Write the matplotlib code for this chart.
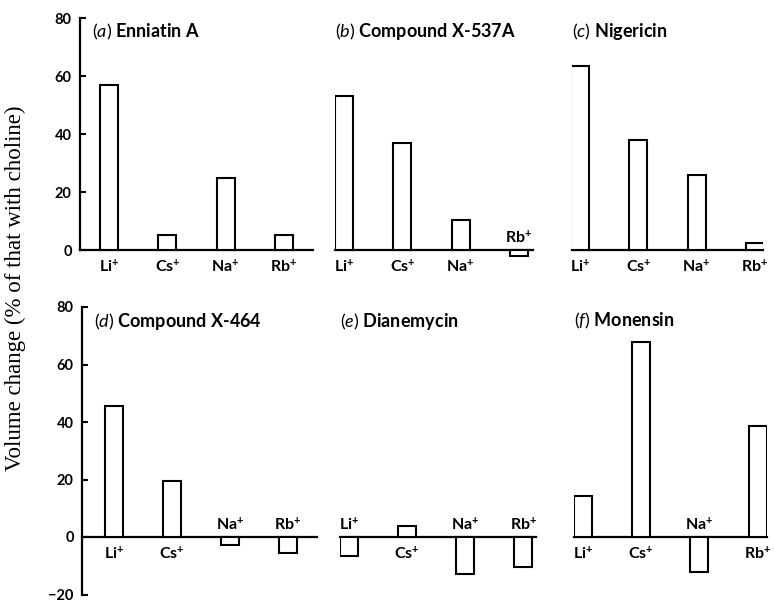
import numpy as np
import matplotlib.pyplot as plt

plt.rcParams['font.family'] = ['Lato', 'DejaVu Sans']
plt.rcParams['mathtext.fontset'] = 'custom'
plt.rcParams['mathtext.it'] = 'Lato:italic'
plt.rcParams['mathtext.rm'] = 'Lato'
plt.rcParams['mathtext.bf'] = 'Lato:bold'

ions = ['Li', 'Cs', 'Na', 'Rb']
letters = ['a', 'b', 'c', 'd', 'e', 'f']
names = ['Enniatin A', 'Compound X-537A', 'Nigericin',
         'Compound X-464', 'Dianemycin', 'Monensin']
enniatin = [57, 5.2, 24.7, 5.2]
x537a = [53.2, 36.8, 10.3, -2]
nigericin = [63.4, 37.9, 25.9, 2.4]
x464 = [45.6, 19.5, -2.7, -5.6]
dianemycin = [-6.5, 4, -13, -10.5]
monensin = [14.4, 68, -12, 38.6]
values = [enniatin, x537a, nigericin, x464, dianemycin, monensin]

W, H = 774, 603
fig = plt.figure(figsize=(W / 100, H / 100), dpi=100)

# (pixel left, pixel right, xlim) per panel
panels = [(80, 313, (-0.5, 3.5)), (335, 533, (-0.155, 3.24)), (572, 763, (-0.14, 3.14)),
          (82, 317, (-0.55, 3.5)), (340, 536, (-0.155, 3.22)), (574, 767, (-0.155, 3.16))]
# row: pixel of 80, pixel of 0, ylim bottom
rows = [(18, 250, -14), (307, 537, -20)]

for k in range(6):
    x0, x1, xl = panels[k]
    p80, p0, ylo = rows[k // 3]
    ppu = (p0 - p80) / 80
    ybot = p0 - ylo * ppu
    ax = fig.add_axes([x0 / W, 1 - ybot / H, (x1 - x0) / W, (ybot - p80) / H])
    ax.set_xlim(*xl)
    ax.set_ylim(ylo, 80)
    pos = np.arange(4)
    ax.bar(pos, values[k], width=0.31, facecolor='white', edgecolor='black', linewidth=1.5, zorder=3)
    for s in ['top', 'right']:
        ax.spines[s].set_visible(False)
    ax.spines['bottom'].set_position(('data', 0))
    ax.spines['bottom'].set_linewidth(1.6)
    ax.set_xticks([])
    if k % 3 == 0:
        ax.spines['left'].set_linewidth(1.6)
        ax.spines['left'].set_bounds(ylo if k == 3 else 0, 80)
        ax.set_yticks(np.arange(ylo if k == 3 else 0, 81, 20))
        ax.set_yticklabels(['\u221220' if t < 0 else str(t) for t in ax.get_yticks().astype(int)])
        ax.tick_params(axis='y', direction='in', length=4, width=1.5, labelsize=10.5, pad=6)
        for t in ax.get_yticklabels():
            t.set_fontweight('bold')
    else:
        ax.spines['left'].set_visible(False)
        ax.set_yticks([])
    for i, v in enumerate(values[k]):
        lab = r'$\mathbf{' + ions[i] + r'}^{\mathbf{+}}$'
        if v >= 0:
            ax.annotate(lab, (i, 0), xytext=(0, -6), textcoords='offset points',
                        ha='center', va='top', fontsize=11.5)
        else:
            ax.annotate(lab, (i, 0), xytext=(0, 3), textcoords='offset points',
                        ha='center', va='bottom', fontsize=11.5)
    ax.text(0.05 if k % 3 == 0 else 0.0, 0.95,
            r'$\it{(' + letters[k] + ')}$ ' + names[k], transform=ax.transAxes,
            fontsize=13, fontweight='bold', ha='left', va='center')

fig.text(15 / W, 1 - 288 / H, 'Volume change (% of that with choline)', rotation=90,
         family='Liberation Serif', fontsize=16.5, ha='center', va='center')

fig.savefig('out.png', dpi=100)
